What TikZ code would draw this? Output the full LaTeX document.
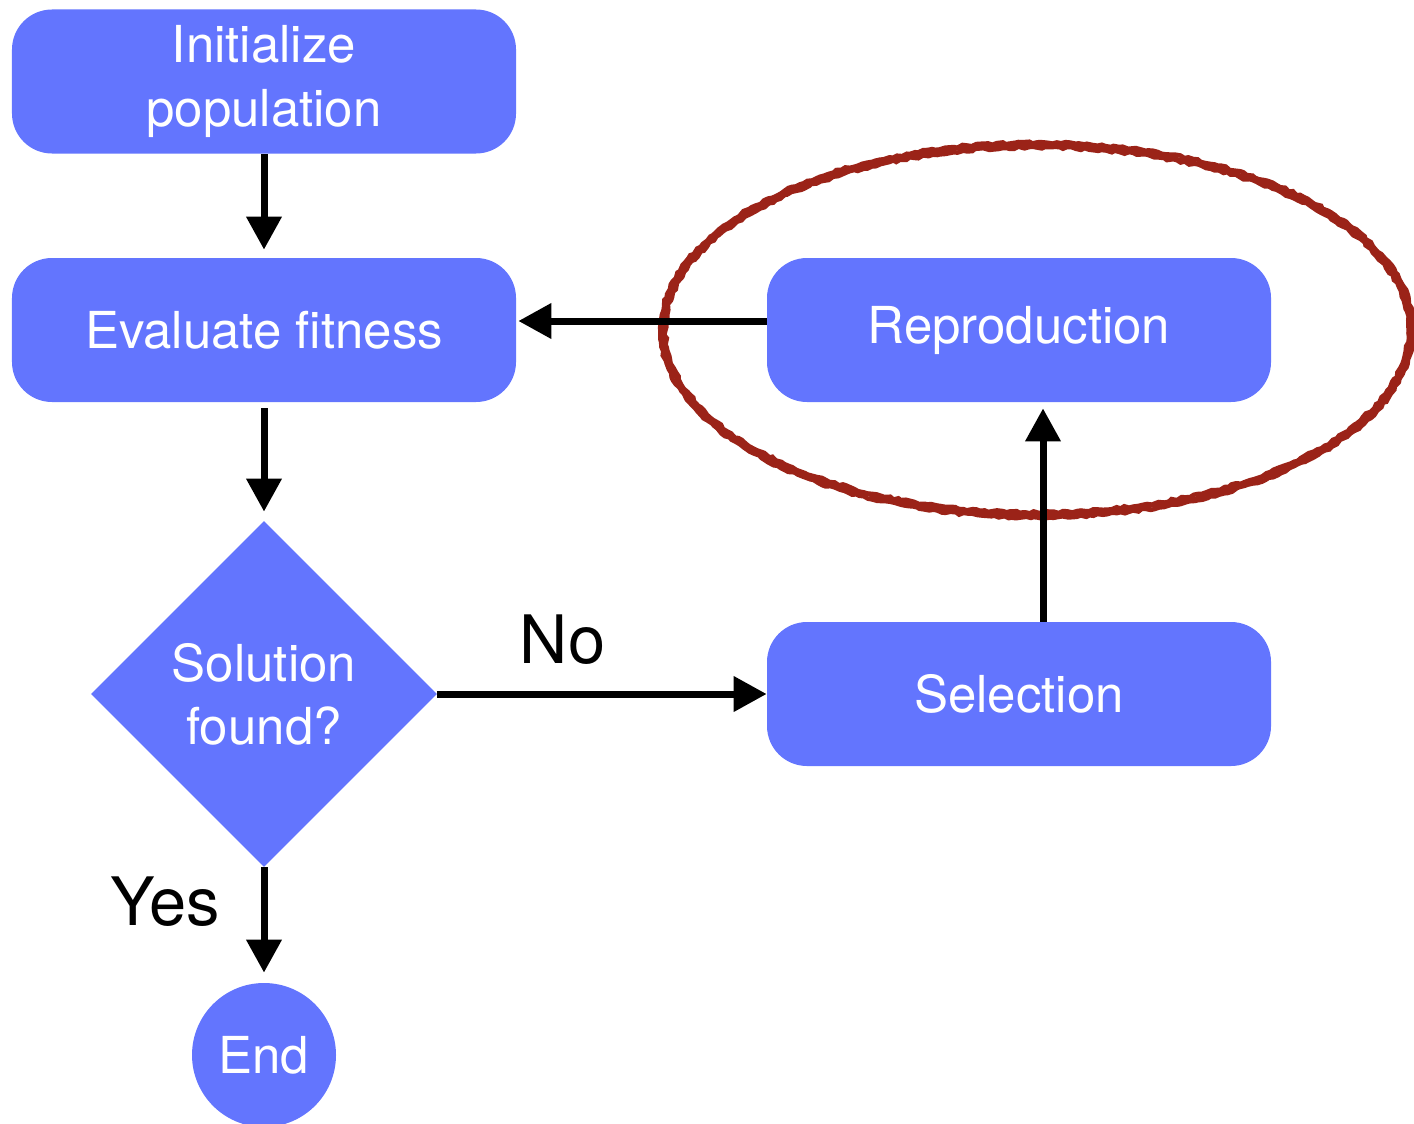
\documentclass[tikz,border=0pt]{standalone}
\usepackage{fontspec}
\setmainfont{TeX Gyre Heros}
\usepackage{tikz}
\usetikzlibrary{shapes.geometric,arrows.meta,decorations.pathmorphing}
\definecolor{flowblue}{HTML}{6375FE}
\definecolor{markred}{HTML}{9B2318}

\begin{document}
\begin{tikzpicture}[x=0.2mm, y=-0.2mm,
	box/.style={rectangle, rounded corners=8mm, fill=flowblue, text=white, inner sep=0pt,
		minimum width=100.8mm, minimum height=28.8mm, align=center, font=\fontsize{29}{36}\selectfont},
	decision/.style={diamond, aspect=1, fill=flowblue, text=white, inner sep=0pt,
		minimum width=69.2mm, minimum height=69.2mm, align=center, font=\fontsize{29}{36}\selectfont},
	stop/.style={circle, fill=flowblue, text=white, inner sep=0pt,
		minimum size=28.8mm, font=\fontsize{29}{36}\selectfont},
	flow/.style={line width=1.4mm, -{Triangle[width=6.8mm,length=6.6mm]}},
	answer/.style={font=\fontsize{38}{44}\selectfont}]
\useasboundingbox (0,0) rectangle (1414,1123);

\node[box] (init) at (264,81.5) {Initialize\\population};
\node[box] (eval) at (264,330) {Evaluate fitness};
\node[decision] (found) at (264,694) {Solution\\found?};
\node[stop] (end) at (264,1055) {End};
\node[box] (sel) at (1019,694) {Selection};
\node[box] (repro) at (1019,330) {Reproduction};

% highlight round the reproduction step
\foreach \dr in {-0.5,0,0.5}
	\draw[markred, line width=0.9mm, decorate,
		decoration={random steps, segment length=2.5pt, amplitude=0.7pt}]
		(1037,330) ellipse [x radius=74.8mm+\dr mm, y radius=37mm+\dr mm];

\path[flow]
(init) edge[shorten >=1.6mm] (eval)
(eval) edge[shorten <=1.2mm, shorten >=1.8mm] (found)
(found) edge[shorten >=2mm] node[pos=0.3, left=7mm, answer] {Yes} (end)
(found) edge node[pos=0.38, above=4mm, answer] {No} (sel)
([xshift=4.8mm]sel.north) edge[shorten >=1.2mm] ([xshift=4.8mm]repro.south)
([yshift=1.8mm]repro.west) edge[shorten >=0.4mm] ([yshift=1.8mm]eval.east)
;
\end{tikzpicture}
\end{document}
